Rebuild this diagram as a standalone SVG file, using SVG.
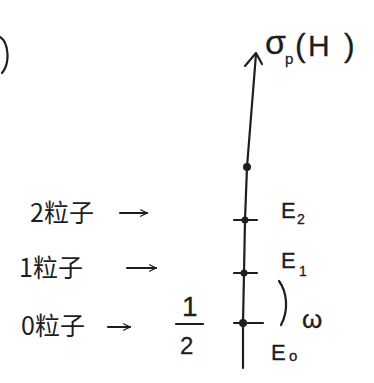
<svg xmlns="http://www.w3.org/2000/svg" width="374" height="383" viewBox="0 0 374 383">
<defs>
<style>
.ink{stroke:#1e1e1e;stroke-width:2.2;fill:none;stroke-linecap:round;stroke-linejoin:round}
.t{fill:#1e1e1e;font-family:"Noto Sans CJK SC","Noto Sans CJK JP",sans-serif}
.l{fill:#1e1e1e;font-family:"Liberation Sans",sans-serif;stroke:#1e1e1e;stroke-width:0.3}
.dot{fill:#1e1e1e}
</style>
<marker id="ah" viewBox="0 0 10 10" refX="9" refY="5" markerWidth="8" markerHeight="8" orient="auto" markerUnits="userSpaceOnUse">
<path d="M1,1 L9,5 L1,9" fill="none" stroke="#1e1e1e" stroke-width="1.6" stroke-linecap="round"/>
</marker>
</defs>
<rect width="374" height="383" fill="#ffffff"/>
<path class="ink" d="M0,37 C8,42 11,62 2,73"/>
<g id="connectors">
<polyline class="ink" points="243,368 243,323 244,273 245,220 247,167 256,54"/>
<polyline class="ink" points="245,66 256,53 262,64"/>
<line class="ink" x1="120" y1="213" x2="147" y2="213" marker-end="url(#ah)"/>
<line class="ink" x1="127" y1="268" x2="156" y2="268" marker-end="url(#ah)"/>
<line class="ink" x1="108" y1="327" x2="130" y2="327" marker-end="url(#ah)"/>
</g>
<g id="axis-label">
<text class="l" x="265" y="54" font-size="34">σ</text>
<text class="l" x="285" y="64" font-size="15">p</text>
<text class="l" x="295" y="56" font-size="32">(</text>
<text class="l" x="308" y="56" font-size="30">H</text>
<text class="l" x="344" y="56" font-size="32">)</text>
</g>
<g id="top-dot"><circle class="dot" cx="247" cy="167" r="4"/></g>
<g id="E2">
<line class="ink" x1="234" y1="220" x2="257" y2="220"/>
<circle class="dot" cx="245" cy="220" r="3.5"/>
<text class="l" x="281" y="218" font-size="22">E</text>
<text class="l" x="297" y="224" font-size="14">2</text>
</g>
<g id="E1">
<line class="ink" x1="234" y1="273" x2="257" y2="273"/>
<circle class="dot" cx="244" cy="273" r="3.5"/>
<text class="l" x="281" y="268" font-size="22">E</text>
<text class="l" x="299" y="276" font-size="14">1</text>
</g>
<g id="E0">
<line class="ink" x1="234" y1="323" x2="263" y2="323"/>
<circle class="dot" cx="243" cy="323" r="4"/>
<text class="l" x="271" y="360" font-size="22">E</text>
<text class="l" x="289" y="361" font-size="15">o</text>
</g>
<g id="omega">
<path class="ink" d="M279,281 C287,292 289,310 281,325"/>
<text class="l" x="302" y="328" font-size="26">ω</text>
</g>
<g id="half">
<text class="l" x="182" y="316" font-size="28">1</text>
<line class="ink" x1="176" y1="324" x2="203" y2="324"/>
<text class="l" x="180" y="354" font-size="24">2</text>
</g>
<g id="n2"><text class="t" x="30" y="222" font-size="25">2粒子</text></g>
<g id="n1"><text class="t" x="19" y="277" font-size="25">1粒子</text></g>
<g id="n0"><text class="t" x="21" y="335" font-size="25">0粒子</text></g>
</svg>
